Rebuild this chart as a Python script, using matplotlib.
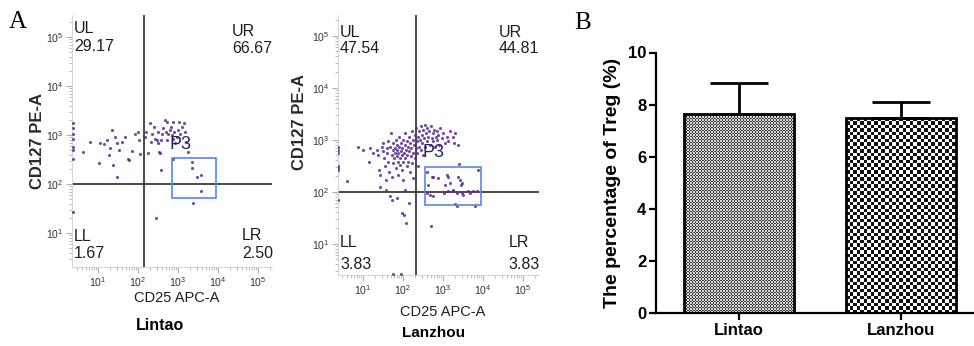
import numpy as np
import matplotlib
matplotlib.use('Agg')
import matplotlib.pyplot as plt
from matplotlib.colors import ListedColormap
from matplotlib.patches import Rectangle
from matplotlib.ticker import LogLocator

plt.rcParams['font.family'] = ['Liberation Sans', 'DejaVu Sans']
plt.rcParams['mathtext.default'] = 'regular'

# ---- panel A: flow cytometry events, log10 fluorescence (CD25 APC-A, CD127 PE-A)
lintao_events = [
    (0.38, 3.24), (0.38, 3.14), (0.38, 3.03), (0.38, 2.93), (0.38, 2.76), (0.38, 2.69),
    (0.38, 2.52), (0.38, 1.44), (0.63, 2.65), (0.80, 2.86), (1.05, 2.83), (1.03, 2.44),
    (1.15, 2.81), (1.22, 2.90), (1.28, 2.59), (1.30, 2.73), (1.34, 3.10), (1.38, 2.39),
    (1.43, 2.97), (1.47, 2.84), (1.48, 2.14), (1.53, 2.69), (1.59, 2.86), (1.68, 2.97),
    (1.76, 2.52), (1.78, 2.49), (1.84, 2.67), (1.93, 3.03), (1.99, 3.07), (2.03, 2.90),
    (2.05, 2.61), (2.18, 2.97), (2.20, 3.07), (2.26, 2.64), (2.30, 3.24), (2.32, 2.86),
    (2.34, 3.03), (2.41, 3.17), (2.43, 2.93), (2.47, 2.90), (2.49, 3.07), (2.51, 2.83),
    (2.53, 2.66), (2.55, 2.63), (2.57, 2.29), (2.58, 2.90), (2.59, 3.03), (2.63, 3.14),
    (2.68, 3.31), (2.70, 3.07), (2.72, 3.27), (2.73, 2.90), (2.76, 3.03), (2.80, 3.10),
    (2.82, 3.17), (2.84, 3.00), (2.87, 3.27), (2.88, 2.93), (2.90, 3.07), (2.93, 2.83),
    (2.97, 2.97), (3.01, 3.10), (3.03, 3.27), (3.05, 3.03), (3.09, 3.17), (3.15, 3.24),
    (3.18, 3.07), (3.20, 2.86), (3.26, 2.66), (2.88, 2.52), (3.34, 2.46), (3.34, 2.32),
    (3.47, 2.15), (3.58, 2.18), (3.57, 1.86), (3.38, 1.62), (2.45, 1.30),
]

lanzhou_events = [
    (0.38, 2.87), (0.38, 2.81), (0.38, 2.74), (0.38, 2.49), (0.38, 2.46), (0.38, 2.42),
    (0.38, 1.85), (0.59, 2.20), (0.88, 2.87), (1.01, 2.81), (1.18, 2.84), (1.26, 2.74),
    (1.16, 2.58), (1.34, 2.81), (1.38, 2.71), (1.41, 2.42), (1.43, 2.33), (1.47, 2.87),
    (1.49, 2.94), (1.51, 2.78), (1.53, 2.65), (1.55, 2.49), (1.58, 2.23), (1.59, 2.84),
    (1.61, 2.74), (1.63, 2.97), (1.63, 2.58), (1.66, 2.39), (1.68, 2.87), (1.69, 3.13),
    (1.72, 2.71), (1.72, 2.29), (1.74, 2.81), (1.76, 2.94), (1.76, 2.55), (1.78, 2.65),
    (1.80, 2.84), (1.80, 2.74), (1.82, 2.46), (1.83, 3.00), (1.84, 2.68), (1.84, 2.90),
    (1.86, 2.81), (1.87, 2.58), (1.88, 2.74), (1.88, 2.33), (1.90, 2.87), (1.91, 3.06),
    (1.93, 2.65), (1.93, 2.52), (1.94, 2.94), (1.95, 2.78), (1.97, 2.71), (1.97, 2.42),
    (1.98, 2.84), (1.99, 2.58), (2.01, 3.00), (2.01, 2.23), (2.03, 2.74), (2.04, 2.90),
    (2.05, 2.65), (2.06, 3.13), (2.08, 2.81), (2.09, 2.49), (2.09, 2.97), (2.11, 2.71),
    (2.13, 2.87), (2.13, 2.58), (2.14, 3.06), (2.16, 2.78), (2.18, 2.94), (2.18, 2.39),
    (2.19, 2.68), (2.21, 2.84), (2.22, 3.16), (2.23, 2.55), (2.24, 3.00), (2.26, 2.74),
    (2.26, 2.26), (2.28, 2.90), (2.29, 3.10), (2.30, 2.65), (2.32, 2.84), (2.33, 3.22),
    (2.34, 2.97), (2.36, 2.74), (2.37, 3.06), (2.38, 2.49), (2.39, 2.87), (2.41, 3.16),
    (2.43, 3.00), (2.44, 2.81), (2.45, 3.26), (2.47, 3.10), (2.48, 2.94), (2.49, 2.71),
    (2.51, 3.19), (2.53, 3.03), (2.55, 2.87), (2.56, 3.29), (2.58, 3.13), (2.59, 2.97),
    (2.61, 3.22), (2.63, 3.06), (2.65, 3.16), (2.68, 2.90), (2.69, 3.26), (2.72, 3.03),
    (2.74, 3.13), (2.76, 2.97), (2.78, 3.19), (2.80, 2.87), (2.83, 3.06), (2.84, 3.16),
    (2.86, 3.00), (2.88, 3.10), (2.91, 2.90), (2.93, 3.22), (2.97, 3.03), (3.01, 3.13),
    (3.05, 2.94), (3.09, 3.06), (3.13, 2.97), (3.18, 3.16), (3.26, 3.06), (3.28, 2.94),
    (3.30, 3.13), (3.38, 2.90),
    (1.43, 2.10), (1.58, 2.03), (1.68, 1.91), (1.72, 1.85), (1.84, 1.88), (2.05, 2.03),
    (2.16, 1.78), (1.97, 1.59), (2.03, 1.56), (2.08, 1.40), (2.70, 1.35), (1.75, 0.42),
    (1.95, 0.42),
    (2.61, 2.39), (2.72, 2.29), (2.76, 2.29), (2.63, 2.13), (2.76, 1.91), (2.88, 2.26),
    (3.05, 2.13), (3.09, 2.33), (3.13, 2.29), (3.18, 2.17), (3.26, 2.04), (3.38, 2.29),
    (3.43, 2.23), (3.47, 2.17), (3.44, 2.13), (3.03, 1.97), (3.13, 2.02), (3.26, 2.02),
    (3.34, 1.97), (3.47, 1.97), (3.51, 1.94), (3.63, 2.01), (3.68, 1.97), (3.76, 2.01),
    (3.84, 2.01), (3.88, 2.42), (3.30, 1.76), (3.34, 1.72), (3.80, 1.72), (2.59, 1.97),
    (2.68, 1.94), (3.41, 2.53),
]

quadrant_names = ['UL', 'UR', 'LL', 'LR']
lintao_quadrants = ['29.17', '66.67', '1.67', '2.50']
lanzhou_quadrants = ['47.54', '44.81', '3.83', '3.83']

# quadrant thresholds (log10), P3 gate (log10 x0, x1, y0, y1), P3 label (log10)
lintao_cut = (2.15, 2.0)
lanzhou_cut = (2.33, 2.0)
lintao_gate = (2.85, 3.95, 1.71, 2.53)
lanzhou_gate = (2.55, 3.95, 1.75, 2.47)
lintao_p3 = (3.07, 2.80)
lanzhou_p3 = (2.75, 2.75)

# ---- panel B
groups = ['Lintao', 'Lanzhou']
treg_pct = [7.64, 7.47]
treg_sem = [1.20, 0.62]

fig = plt.figure(figsize=(9.74, 3.46), dpi=100)
ink = '#1e1e1e'


def flow_panel(rect, events, cut, gate, p3, quads, xlim, ylim, txt_pos):
    ax = fig.add_axes(rect)
    ev = np.array(events)
    ax.scatter(10 ** ev[:, 0], 10 ** ev[:, 1], s=5, color='#5b2d8e', alpha=0.85,
               linewidths=0, zorder=3)
    ax.set_xscale('log')
    ax.set_yscale('log')
    ax.set_xlim(10 ** xlim[0], 10 ** xlim[1])
    ax.set_ylim(10 ** ylim[0], 10 ** ylim[1])
    ax.axvline(10 ** cut[0], color='#3a3a3a', lw=1.3, zorder=2)
    ax.axhline(10 ** cut[1], color='#3a3a3a', lw=1.3, zorder=2)
    x0, x1, y0, y1 = [10 ** v for v in gate]
    ax.add_patch(Rectangle((x0, y0), x1 - x0, y1 - y0, fill=False,
                           edgecolor='#5a86e8', lw=1.2, zorder=4))
    ax.text(10 ** p3[0], 10 ** p3[1], 'P3', fontsize=13, color='#25255a', ha='center',
            va='center', zorder=5)
    for name, val, (fx, fy1, fy2) in zip(quadrant_names, quads, txt_pos):
        ax.text(fx, fy1, name, transform=ax.transAxes, fontsize=11.5, color=ink,
                ha='left', va='top')
        ax.text(fx, fy2, val, transform=ax.transAxes, fontsize=11.5, color=ink,
                ha='left', va='top')
    for s in ['top', 'right']:
        ax.spines[s].set_visible(False)
    for s in ['left', 'bottom']:
        ax.spines[s].set_color('#cfcfcf')
        ax.spines[s].set_linewidth(0.6)
    ax.xaxis.set_major_locator(LogLocator(base=10, numticks=10))
    ax.yaxis.set_major_locator(LogLocator(base=10, numticks=10))
    ax.xaxis.set_minor_locator(LogLocator(base=10, subs=np.arange(2, 10), numticks=10))
    ax.yaxis.set_minor_locator(LogLocator(base=10, subs=np.arange(2, 10), numticks=10))
    ax.tick_params(which='both', color='#b0b0b0', labelsize=7.5, labelcolor='#333333')
    ax.tick_params(which='major', length=4, width=0.8, pad=2)
    ax.tick_params(which='minor', length=2.5, width=0.6)
    return ax


flow_panel([72 / 974, 1 - 267 / 346, 200 / 974, 252 / 346], lintao_events, lintao_cut,
           lintao_gate, lintao_p3, lintao_quadrants, (0.35, 5.35), (0.31, 5.45),
           [(0.01, 0.975, 0.905), (0.80, 0.965, 0.895), (0.01, 0.15, 0.083),
            (0.85, 0.155, 0.083)])
flow_panel([338 / 974, 1 - 275 / 346, 201 / 974, 260 / 346], lanzhou_events, lanzhou_cut,
           lanzhou_gate, lanzhou_p3, lanzhou_quadrants, (0.375, 5.4), (0.40, 5.40),
           [(0.01, 0.96, 0.90), (0.80, 0.96, 0.90), (0.01, 0.155, 0.068),
            (0.85, 0.155, 0.068)])

fig.text(38 / 974, 1 - 141 / 346, 'CD127 PE-A', rotation=90, fontsize=12,
         fontweight='bold', ha='center', va='center', color='#2a2a2a')
fig.text(300 / 974, 1 - 122 / 346, 'CD127 PE-A', rotation=90, fontsize=12,
         fontweight='bold', ha='center', va='center', color='#2a2a2a')
fig.text(177 / 974, 1 - 298 / 346, 'CD25 APC-A', fontsize=10.5, ha='center',
         va='center', color=ink)
fig.text(443 / 974, 1 - 312 / 346, 'CD25 APC-A', fontsize=10.5, ha='center',
         va='center', color=ink)
fig.text(160 / 974, 1 - 325 / 346, 'Lintao', fontsize=11.5, fontweight='bold',
         ha='center', va='center')
fig.text(434 / 974, 1 - 333 / 346, 'Lanzhou', fontsize=11, fontweight='bold',
         ha='center', va='center')
fig.text(18 / 974, 1 - 22 / 346, 'A', fontsize=18, ha='center', va='center',
         family=['Liberation Serif', 'DejaVu Serif'])
fig.text(583 / 974, 1 - 23 / 346, 'B', fontsize=18, ha='center', va='center',
         family=['Liberation Serif', 'DejaVu Serif'])

# ---- panel B bar chart
axb = fig.add_axes([656 / 974, 1 - 313 / 346, 317 / 974, 260.5 / 346])
xpos = np.arange(len(groups))
xl, yl = (-0.508, 1.443), (0, 10)
axb.set_xlim(*xl)
axb.set_ylim(*yl)
bars = axb.bar(xpos, treg_pct, width=0.677, facecolor='none', edgecolor='black',
               linewidth=2.0, zorder=3)
axb.errorbar(xpos, treg_pct, yerr=[np.zeros(len(groups)), treg_sem], fmt='none',
             ecolor='black', elinewidth=2.0, capsize=21, capthick=2.0, zorder=2)

# checker fills, sized in screen pixels
fills = [(1.5, '#3c3c3c', '#d8d8d8'), (3.5, '#111111', '#ffffff')]
for patch, (cell, dark, light) in zip(bars.patches, fills):
    bx, by, bw, bh = patch.get_x(), patch.get_y(), patch.get_width(), patch.get_height()
    p0 = axb.transData.transform((bx, by))
    p1 = axb.transData.transform((bx + bw, by + bh))
    nx = max(1, int(round(abs(p1[0] - p0[0]) / cell)))
    ny = max(1, int(round(abs(p1[1] - p0[1]) / cell)))
    grid = np.add.outer(np.arange(ny), np.arange(nx)) % 2
    im = axb.imshow(grid, cmap=ListedColormap([light, dark]), extent=(bx, bx + bw, by, by + bh),
                    interpolation='nearest', aspect='auto', zorder=1)
    im.set_clip_path(patch)
axb.set_xlim(*xl)
axb.set_ylim(*yl)

axb.set_yticks(np.arange(0, 11, 2))
axb.set_xticks(xpos)
axb.set_xticklabels(groups, fontweight='bold', fontsize=12)
for lab in axb.get_yticklabels():
    lab.set_fontweight('bold')
    lab.set_fontsize(12)
axb.set_ylabel('The percentage of Treg (%)', fontsize=14, fontweight='bold', labelpad=5)
for s in ['top', 'right']:
    axb.spines[s].set_visible(False)
for s in ['left', 'bottom']:
    axb.spines[s].set_linewidth(1.6)
axb.tick_params(width=1.6, length=5, pad=2)

fig.savefig('out.png', dpi=100)
